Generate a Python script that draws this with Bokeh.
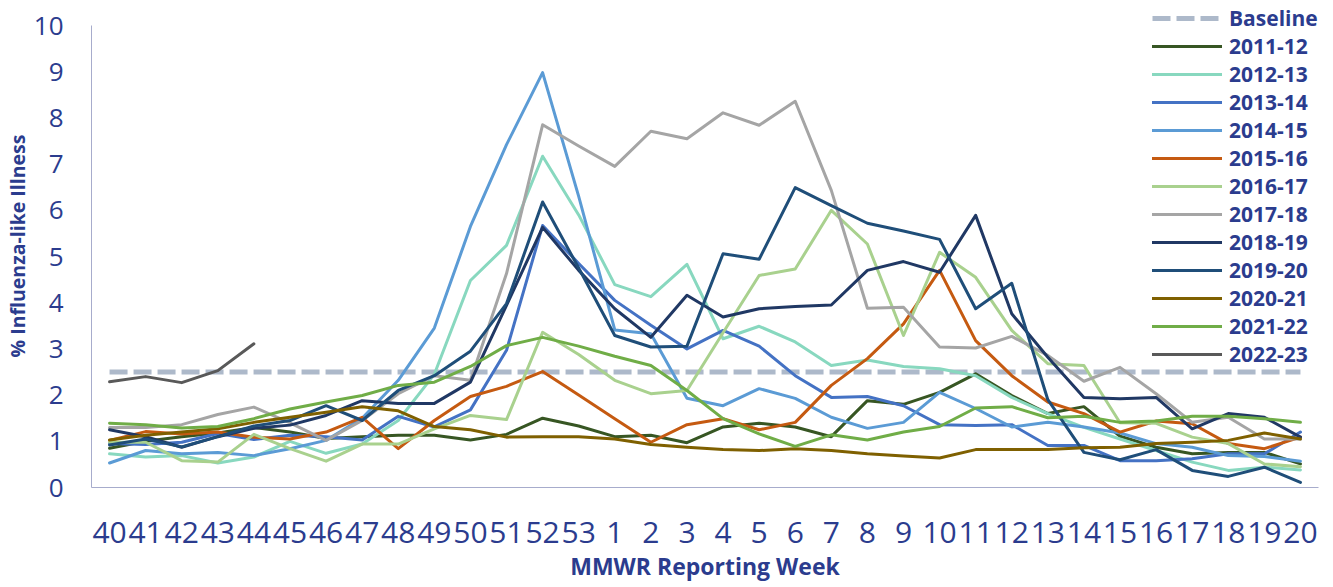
from bokeh.plotting import figure
from bokeh.models import FactorRange, Range1d, Legend, LegendItem, FixedTicker
from bokeh.embed import file_html
from bokeh.resources import INLINE

weeks = ["40", "41", "42", "43", "44", "45", "46", "47", "48", "49", "50", "51", "52", "53",
         "1", "2", "3", "4", "5", "6", "7", "8", "9", "10", "11", "12", "13", "14", "15",
         "16", "17", "18", "19", "20"]

baseline = [2.5] * len(weeks)

s2011_12 = [0.85, 1.0, 1.1, 1.18, 1.3, 1.2, 1.06, 1.1, 1.13, 1.13, 1.03, 1.15, 1.5, 1.33, 1.1, 1.13, 0.97,
            1.31, 1.39, 1.31, 1.1, 1.88, 1.8, 2.06, 2.46, 1.99, 1.6, 1.75, 1.11, 0.87, 0.73, 0.76, 0.76, 0.51]
s2012_13 = [0.73, 0.66, 0.69, 0.53, 0.66, 1.0, 0.74, 0.94, 1.45, 2.45, 4.48, 5.24, 7.17, 5.9, 4.39, 4.13, 4.83,
            3.22, 3.49, 3.15, 2.64, 2.76, 2.62, 2.57, 2.42, 1.95, 1.6, 1.3, 1.05, 0.8, 0.55, 0.37, 0.44, 0.38]
s2013_14 = [0.95, 0.93, 0.98, 1.17, 1.04, 1.13, 1.1, 1.03, 1.54, 1.31, 1.68, 2.97, 5.67, 4.85, 4.05, 3.51, 3.0,
            3.4, 3.06, 2.42, 1.95, 1.97, 1.77, 1.36, 1.34, 1.36, 0.91, 0.91, 0.58, 0.58, 0.62, 0.73, 0.73, 1.2]
s2014_15 = [0.53, 0.8, 0.73, 0.76, 0.69, 0.84, 1.02, 1.5, 2.32, 3.45, 5.65, 7.42, 8.98, 6.3, 3.41, 3.33, 1.93,
            1.77, 2.14, 1.93, 1.52, 1.28, 1.41, 2.06, 1.71, 1.31, 1.41, 1.31, 1.18, 0.95, 0.87, 0.69, 0.67, 0.57]
s2015_16 = [1.02, 1.21, 1.16, 1.2, 1.09, 1.05, 1.2, 1.52, 0.84, 1.45, 1.97, 2.19, 2.51, 2.0, 1.49, 0.98, 1.36,
            1.49, 1.25, 1.41, 2.21, 2.79, 3.54, 4.7, 3.18, 2.42, 1.85, 1.6, 1.2, 1.44, 1.38, 0.95, 0.84, 1.09]
s2016_17 = [0.98, 0.98, 0.58, 0.55, 1.15, 0.84, 0.57, 0.94, 0.94, 1.27, 1.56, 1.47, 3.36, 2.88, 2.32, 2.03, 2.1,
            3.35, 4.59, 4.73, 6.0, 5.27, 3.29, 5.09, 4.55, 3.4, 2.68, 2.64, 1.4, 1.39, 1.09, 0.95, 0.51, 0.45]
s2017_18 = [1.3, 1.3, 1.36, 1.58, 1.74, 1.4, 1.02, 1.45, 2.03, 2.42, 2.32, 4.63, 7.85, 7.39, 6.95, 7.71, 7.55,
            8.11, 7.84, 8.36, 6.43, 3.88, 3.9, 3.04, 3.02, 3.27, 2.86, 2.3, 2.6, 2.03, 1.41, 1.52, 1.05, 1.05]
s2018_19 = [1.25, 1.1, 0.87, 1.1, 1.28, 1.35, 1.56, 1.88, 1.82, 1.82, 2.28, 3.94, 5.63, 4.7, 3.87, 3.25, 4.16,
            3.69, 3.87, 3.92, 3.95, 4.7, 4.89, 4.66, 5.89, 3.76, 2.82, 1.95, 1.92, 1.95, 1.27, 1.6, 1.52, 1.09]
s2019_20 = [0.92, 1.05, 0.88, 1.1, 1.33, 1.45, 1.77, 1.45, 2.1, 2.42, 2.95, 3.98, 6.18, 4.75, 3.29, 3.04, 3.06,
            5.06, 4.94, 6.49, 6.1, 5.72, 5.55, 5.37, 3.87, 4.42, 1.9, 0.76, 0.6, 0.82, 0.37, 0.24, 0.44, 0.11]
s2020_21 = [1.03, 1.13, 1.2, 1.27, 1.41, 1.52, 1.63, 1.75, 1.66, 1.32, 1.25, 1.09, 1.1, 1.1, 1.05, 0.93, 0.87,
            0.82, 0.8, 0.84, 0.8, 0.73, 0.68, 0.64, 0.82, 0.82, 0.82, 0.86, 0.87, 0.95, 0.98, 1.02, 1.18, 1.05]
s2021_22 = [1.39, 1.36, 1.29, 1.32, 1.49, 1.7, 1.85, 1.99, 2.21, 2.28, 2.62, 3.07, 3.25, 3.06, 2.84, 2.64, 2.1,
            1.49, 1.16, 0.89, 1.14, 1.03, 1.2, 1.32, 1.72, 1.75, 1.51, 1.54, 1.41, 1.44, 1.54, 1.54, 1.49, 1.41]
s2022_23 = [2.29, 2.4, 2.27, 2.53, 3.11]

seasons = ["2011-12", "2012-13", "2013-14", "2014-15", "2015-16", "2016-17", "2017-18",
           "2018-19", "2019-20", "2020-21", "2021-22", "2022-23"]
values = [s2011_12, s2012_13, s2013_14, s2014_15, s2015_16, s2016_17, s2017_18,
          s2018_19, s2019_20, s2020_21, s2021_22, s2022_23]
colors = ["#375623", "#88D8BF", "#4472C4", "#5B9BD5", "#C55A11", "#A9D18E", "#A5A5A5",
          "#203864", "#1F4E79", "#7F6000", "#70AD47", "#595959"]

TXT = "#2b3c8e"
FONT = "Open Sans"

# frame extends 21px above the value 10 so the legend's first row fits inside it
Y_MAX = 10
y_end = Y_MAX * 483 / 462

p = figure(width=1320, height=585,
           x_range=FactorRange(factors=weeks, range_padding=0),
           y_range=Range1d(0, y_end),
           output_backend="svg", toolbar_location=None,
           min_border_left=91, min_border_right=2, min_border_top=4, min_border_bottom=98)

p.outline_line_color = None
p.xgrid.visible = False
p.ygrid.visible = False

items = []
r = p.line(weeks, baseline, line_color="#ADB9CA", line_width=5, line_dash="18 6")
items.append(LegendItem(label="Baseline", renderers=[r]))
for name, vals, col in zip(seasons, values, colors):
    r = p.line(weeks[:len(vals)], vals, line_color=col, line_width=3,
               line_join="round", line_cap="round")
    items.append(LegendItem(label=name, renderers=[r]))

# axes
p.yaxis.ticker = FixedTicker(ticks=list(range(0, Y_MAX + 1)))
p.yaxis.bounds = (0, Y_MAX)
for ax in (p.xaxis[0], p.yaxis[0]):
    ax.axis_line_color = "#A7ACCC"
    ax.axis_line_width = 1
    ax.major_tick_line_color = None
    ax.minor_tick_line_color = None
    ax.major_tick_out = 0
    ax.major_tick_in = 0
    ax.major_label_text_color = TXT
    ax.major_label_text_font = FONT
    ax.axis_label_text_color = TXT
    ax.axis_label_text_font = FONT
    ax.axis_label_text_font_style = "bold"

p.xaxis.major_label_text_font_size = "30px"
p.xaxis.major_label_standoff = 34
p.xaxis.axis_label = "MMWR Reporting Week"
p.xaxis.axis_label_text_font_size = "23px"
p.xaxis.axis_label_standoff = 4

p.yaxis.major_label_text_font_size = "26px"
p.yaxis.major_label_standoff = 28
p.yaxis.axis_label = "% Influenza-like Illness"
p.yaxis.axis_label_text_font_size = "19.5px"
p.yaxis.axis_label_standoff = 0

legend = Legend(items=items, location=(1061, 119),
                background_fill_alpha=0, border_line_alpha=0,
                label_text_font=FONT, label_text_font_style="bold",
                label_text_font_size="21px", label_text_color=TXT,
                glyph_width=70, glyph_height=28, label_height=28,
                spacing=0, padding=0, margin=0, label_standoff=7)
p.add_layout(legend, "center")

open("out.html", "w").write(file_html(p, INLINE))
